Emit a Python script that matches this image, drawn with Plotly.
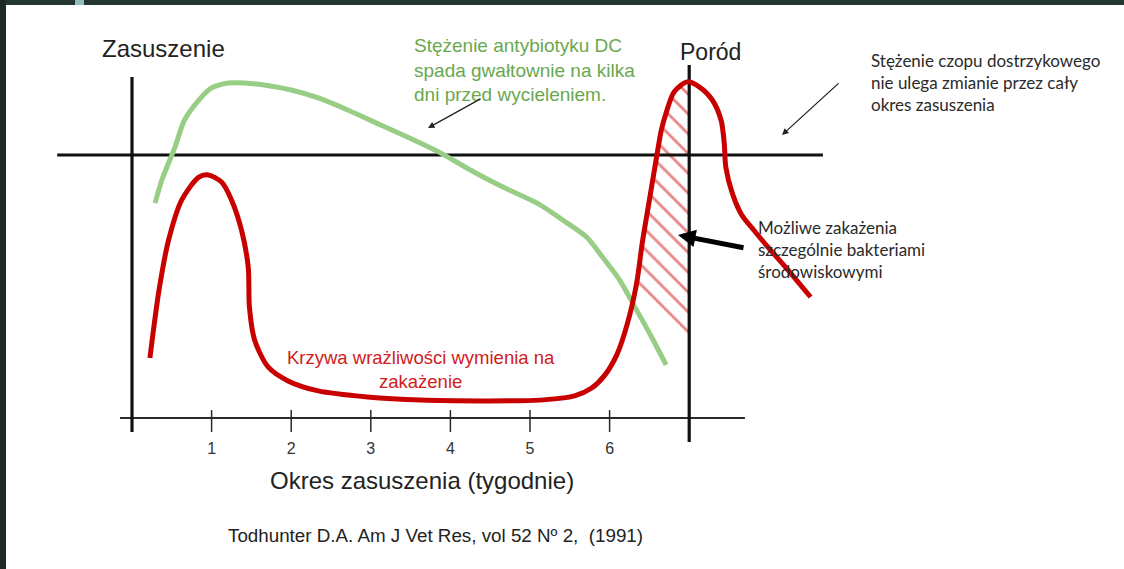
import plotly.graph_objects as go

W, H = 1124, 569

# ---- data -------------------------------------------------------------
# week axis
tick_weeks = [1, 2, 3, 4, 5, 6]
tick_labels = ["1", "2", "3", "4", "5", "6"]
dry_off_week = 0
calving_week = 7
sealant_level = 100          # teat sealant concentration (constant)
hatch_floor = 28.0           # lower end of the hatched band on the calving line

# udder susceptibility to infection (red)
red_x = [0.225, 0.34, 0.46, 0.625, 0.84, 0.96, 1.125, 1.25, 1.375, 1.46, 1.475,
         1.54, 1.71, 1.96, 2.34, 2.96, 3.625, 4.375, 5.125, 5.56, 5.775, 5.94,
         6.09, 6.225, 6.34, 6.41, 6.5, 6.59, 6.65, 6.71, 6.81, 6.975, 7.125,
         7.29, 7.4, 7.44, 7.46, 7.54, 7.66, 7.81, 8.0, 8.21, 8.525]
red_y = [22.8, 48.7, 67.7, 82.9, 91.6, 92.4, 89.7, 82.9, 71.5, 57.4, 42.2,
         29.7, 19.4, 14.1, 10.3, 8.0, 6.8, 6.5, 6.8, 8.4, 11.4, 16.3,
         24.0, 36.1, 51.3, 66.5, 82.9, 99.2, 109.5, 116.0, 124.0, 127.8, 125.9,
         120.9, 113.3, 104.6, 95.4, 85.6, 77.2, 71.5, 64.6, 57.4, 46.0]

# dry-cow antibiotic concentration (green)
green_x = [0.29, 0.375, 0.46, 0.54, 0.66, 0.84, 1.0, 1.21, 1.41, 1.66, 2.0,
           2.34, 2.71, 3.125, 3.54, 3.875, 4.25, 4.66, 5.09, 5.41, 5.71, 5.91,
           6.125, 6.29, 6.5, 6.71]
green_y = [81.7, 90.5, 97.0, 103.0, 113.3, 120.9, 125.5, 127.4, 127.4, 126.6, 124.7,
           121.7, 117.1, 111.4, 105.7, 100.8, 94.3, 87.8, 81.7, 75.3, 68.8, 61.2,
           52.5, 43.7, 32.3, 20.2]

# ---- styling ----------------------------------------------------------
RED = "#c80000"
GREEN = "#97cd84"
GREEN_TXT = "#6aa84f"
ARIAL = "Liberation Sans, Arial, sans-serif"
CALI = "Lato, Carlito, sans-serif"

# plot area fills the whole page: 79.6 px per week, 2.63 px per level unit
X0_PX, X_SCALE = 132, 79.6
Y0_PX, Y_SCALE = 418, 2.63
x_range = [-X0_PX / X_SCALE, (W - X0_PX) / X_SCALE]
y_range = [-(H - Y0_PX) / Y_SCALE, Y0_PX / Y_SCALE]


def px(x, y):
    """pixel position -> paper fraction (for text placement)"""
    return x / W, 1 - y / H


fig = go.Figure()

# hatched band between the rising red curve and the calving line
hx = [x for x in red_x if 6.3 <= x <= calving_week]
hy = [y for x, y in zip(red_x, red_y) if 6.3 <= x <= calving_week]
hx += [calving_week, calving_week]
hy += [hy[-1], hatch_floor]
fig.add_trace(go.Scatter(
    x=hx, y=hy, mode="lines", fill="toself", line=dict(width=0),
    fillcolor="rgba(0,0,0,0)",
    fillpattern=dict(shape="\\", fgcolor="#d01010", bgcolor="rgba(0,0,0,0)",
                     size=14, solidity=0.2),
    hoverinfo="skip", showlegend=False))

# axes / reference lines
fig.add_trace(go.Scatter(x=[-0.15, 7.7], y=[0, 0], mode="lines",
                         line=dict(color="#2a2a2a", width=2), showlegend=False))
tx, ty = [], []
for w in tick_weeks:
    tx += [w, w, None]
    ty += [3.0, -5.3, None]
fig.add_trace(go.Scatter(x=tx, y=ty, mode="lines",
                         line=dict(color="#2a2a2a", width=1.5), showlegend=False))
fig.add_trace(go.Scatter(x=[-0.94, 8.68], y=[sealant_level, sealant_level], mode="lines",
                         line=dict(color="#111", width=3.2), showlegend=False))
fig.add_trace(go.Scatter(x=[dry_off_week, dry_off_week], y=[-5.3, 129.7], mode="lines",
                         line=dict(color="#111", width=3.2), showlegend=False))
fig.add_trace(go.Scatter(x=[calving_week, calving_week], y=[-9.1, 134.2], mode="lines",
                         line=dict(color="#111", width=3.2), showlegend=False))

# curves
fig.add_trace(go.Scatter(x=green_x, y=green_y, mode="lines",
                         line=dict(color=GREEN, width=5, shape="spline", smoothing=0.8),
                         showlegend=False))
fig.add_trace(go.Scatter(x=red_x, y=red_y, mode="lines",
                         line=dict(color=RED, width=5, shape="spline", smoothing=0.8),
                         showlegend=False))

# tick labels
fig.add_trace(go.Scatter(x=tick_weeks, y=[-12.2] * len(tick_weeks), mode="text",
                         text=tick_labels, textposition="middle center",
                         textfont=dict(family=ARIAL, size=16, color="#333"),
                         showlegend=False))

ann = []


def text(x, y, s, size, color="#222", family=ARIAL, xanchor="left", align="left"):
    xp, yp = px(x, y)
    ann.append(dict(x=xp, y=yp, xref="paper", yref="paper", text=s, showarrow=False,
                    xanchor=xanchor, yanchor="middle", align=align,
                    font=dict(family=family, size=size, color=color)))


def arrow(head, tail, width, size=1.0, color="#222"):
    xp, yp = px(*head)
    ann.append(dict(x=xp, y=yp, xref="paper", yref="paper", text="", showarrow=True,
                    ax=tail[0] - head[0], ay=tail[1] - head[1],
                    arrowhead=2, arrowwidth=width, arrowsize=size, arrowcolor=color))


text(100, 48, "Zasuszenie", 24)
text(678, 52, "Poród", 23)
text(412, 70, "Stężenie antybiotyku DC<br>spada gwałtownie na kilka<br>dni przed wycieleniem.",
     19, color=GREEN_TXT)
text(869, 83, "Stężenie czopu dostrzykowego<br>nie ulega zmianie przez cały<br>okres zasuszenia",
     17, color="#2a2a2a", family=CALI)
text(756, 249, "Możliwe zakażenia<br>szczególnie bakteriami<br>środowiskowymi",
     17, color="#2a2a2a", family=CALI)
text(421, 369, "Krzywa wrażliwości wymienia na<br>zakażenie", 18.5, color="#d02020",
     xanchor="center", align="center")
text(422, 480, "Okres zasuszenia (tygodnie)", 24, xanchor="center")
text(226, 535, "Todhunter D.A. Am J Vet Res, vol 52 Nº 2,  (1991)", 18.8)

arrow((428, 128), (482, 98), 1.3)
arrow((782, 135), (840, 82), 1.3)
arrow((678, 235), (745, 248), 5, size=0.7, color="#000")

# dark frame strips
shapes = [
    dict(type="rect", xref="paper", yref="paper", x0=0, x1=1, y0=1 - 5 / H, y1=1,
         fillcolor="#25352f", line=dict(width=0), layer="above"),
    dict(type="rect", xref="paper", yref="paper", x0=0, x1=6 / W, y0=0, y1=1,
         fillcolor="#1c2a26", line=dict(width=0), layer="above"),
    dict(type="rect", xref="paper", yref="paper", x0=75 / W, x1=84 / W, y0=1 - 5 / H, y1=1,
         fillcolor="#93bcbc", line=dict(width=0), layer="above"),
]

fig.update_layout(
    width=W, height=H, margin=dict(l=0, r=0, t=0, b=0, pad=0),
    paper_bgcolor="white", plot_bgcolor="white",
    xaxis=dict(range=x_range, visible=False, fixedrange=True),
    yaxis=dict(range=y_range, visible=False, fixedrange=True),
    annotations=ann, shapes=shapes, showlegend=False,
)

fig.write_html("out.html")
